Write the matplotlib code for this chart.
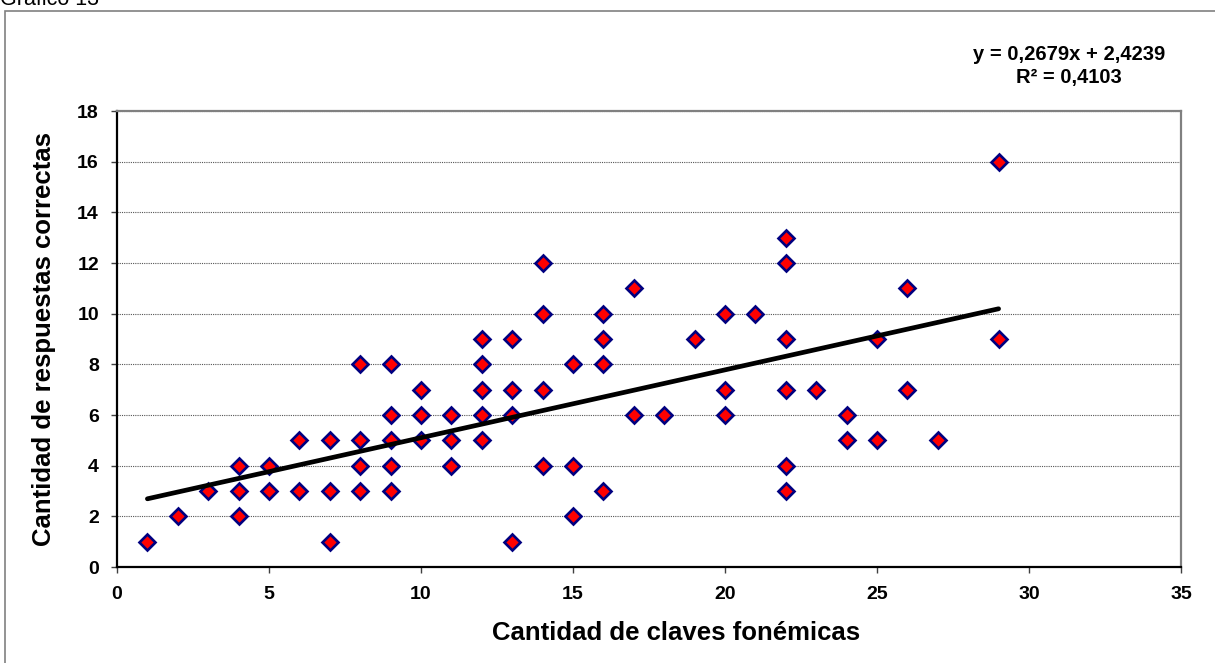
import matplotlib.pyplot as plt
from matplotlib.patches import Rectangle

plt.rcParams['font.family'] = ['Liberation Sans', 'DejaVu Sans']

# claves fonémicas (x) y respuestas correctas (y) por alumno
claves = [1, 2, 3, 4, 4, 4, 5, 5, 6, 6, 7, 7, 7,
          8, 8, 8, 8, 9, 9, 9, 9, 9, 10, 10, 10, 11, 11, 11,
          12, 12, 12, 12, 12, 13, 13, 13, 13, 14, 14, 14, 14,
          15, 15, 15, 16, 16, 16, 16, 17, 17, 18, 19,
          20, 20, 20, 21, 22, 22, 22, 22, 22, 22, 23,
          24, 24, 25, 25, 26, 26, 27, 29, 29]
respuestas = [1, 2, 3, 4, 3, 2, 4, 3, 5, 3, 5, 3, 1,
              8, 5, 4, 3, 8, 6, 5, 4, 3, 7, 6, 5, 6, 5, 4,
              9, 8, 7, 6, 5, 9, 7, 6, 1, 12, 10, 7, 4,
              8, 4, 2, 10, 9, 8, 3, 11, 6, 6, 9,
              10, 7, 6, 10, 13, 12, 9, 7, 4, 3, 7,
              6, 5, 9, 5, 11, 7, 5, 16, 9]

# recta de tendencia lineal
pendiente = 0.2679
ordenada = 2.4239
r2 = 0.4103
x_tend = [1, 29]

fig = plt.figure(figsize=(12.15, 6.63), dpi=100)
ax = fig.add_axes([117 / 1215, 1 - 567 / 663, (1181 - 117) / 1215, (567 - 111) / 663])

# marco del gráfico
fig.patches.append(Rectangle((5 / 1215, -0.05), 1.2, 1 - 11 / 663 + 0.05,
                             transform=fig.transFigure, fill=False,
                             edgecolor='#808080', linewidth=1.2))
fig.text(0.5 / 1215, 1 - 5 / 663, 'Gráfico 13', fontsize=15.5, ha='left', va='baseline')

ax.grid(axis='y', color='#555555', linestyle=(0, (1, 1)), linewidth=0.8)
ax.set_axisbelow(True)

ax.plot(claves, respuestas, linestyle='none', marker='D', markersize=8,
        markerfacecolor='#ff0000', markeredgecolor='#000080', markeredgewidth=1.9, zorder=3)

y_tend = [pendiente * x + ordenada for x in x_tend]
ax.plot(x_tend, y_tend, color='black', linewidth=3.4, solid_capstyle='round', zorder=4)

ax.set_xlim(0, 35)
ax.set_ylim(0, 18)
ax.set_xticks(range(0, 36, 5))
ax.set_yticks(range(0, 19, 2))
ax.tick_params(direction='out', length=4, width=1, color='#404040', labelsize=14)
ax.tick_params(axis='x', pad=10)
ax.tick_params(axis='y', pad=9)
for lab in ax.get_xticklabels() + ax.get_yticklabels():
    lab.set_fontweight('bold')

for side in ('left', 'bottom'):
    ax.spines[side].set_color('black')
    ax.spines[side].set_linewidth(1.6)
for side in ('top', 'right'):
    ax.spines[side].set_color('#808080')
    ax.spines[side].set_linewidth(1.6)

ax.set_xlabel('Cantidad de claves fonémicas', fontsize=18.5, fontweight='bold')
ax.set_ylabel('Cantidad de respuestas correctas', fontsize=18.5, fontweight='bold')
ax.xaxis.set_label_coords((676 - 117) / 1064, (567 - 621) / 456)
ax.yaxis.set_label_coords((56 - 117) / 1064, 0.5)

eq = 'y = {:.4f}x + {:.4f}\nR² = {:.4f}'.format(pendiente, ordenada, r2).replace('.', ',')
fig.text(1069 / 1215, 1 - 66 / 663, eq, fontsize=14.5, fontweight='bold',
         ha='center', va='center', linespacing=1.25)

fig.savefig('out.png', dpi=100)
